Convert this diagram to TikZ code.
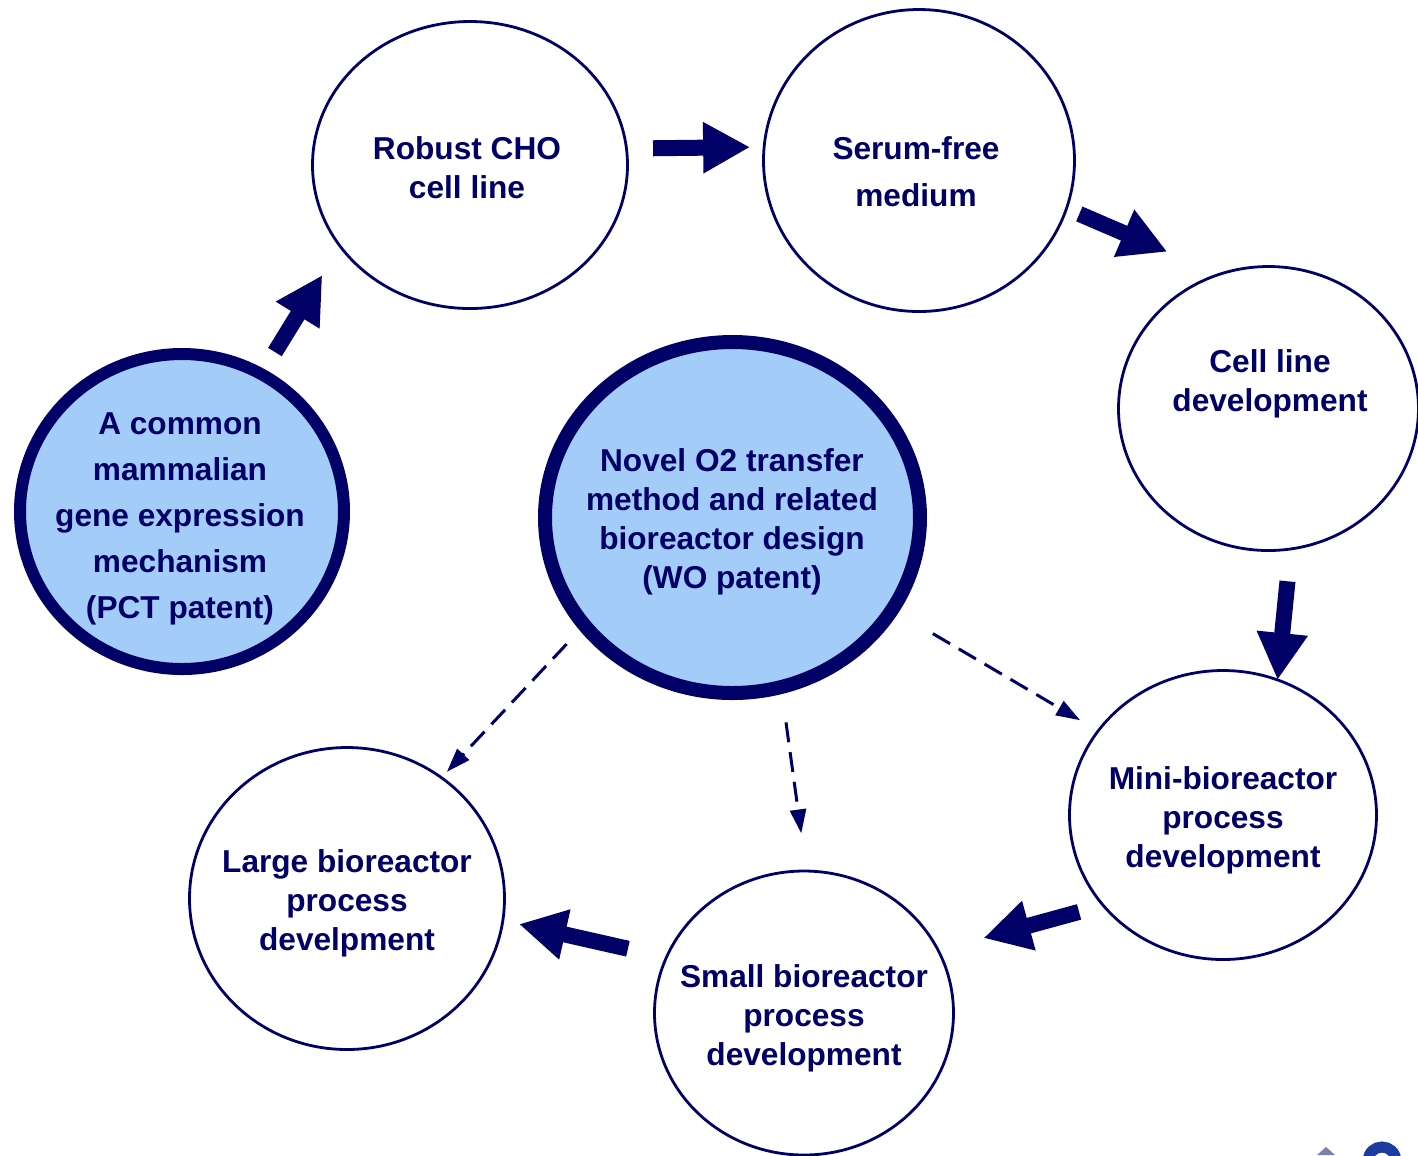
\documentclass[tikz,border=0pt]{standalone}
\usepackage{fontspec}
\setmainfont{Liberation Sans}
\usetikzlibrary{arrows.meta, shapes.geometric}
\definecolor{navy}{RGB}{0,0,102}
\definecolor{keyblue}{RGB}{163,204,249}
\definecolor{logoblue}{RGB}{30,60,160}
\definecolor{logogrey}{RGB}{120,130,170}

\begin{document}
\begin{tikzpicture}[x=0.1mm,y=-0.1mm,
  ring/.style={ellipse,draw=navy,line width=0.28mm,inner sep=0pt,outer sep=0pt},
  keyring/.style={ellipse,draw=navy,fill=keyblue,inner sep=0pt,outer sep=0pt},
  txt/.style={text=navy,align=center,inner sep=0pt,font=\fontsize{9}{#1}\selectfont\bfseries},
  txt/.default=11.1,
  blk/.style={navy,line width=1.6mm,-{Triangle[length=4.7mm,width=4.8mm]}},
  dsh/.style={navy,line width=0.3mm,dash pattern=on 2mm off 1mm,-{Triangle[length=2.4mm,width=1.6mm]}}]
\useasboundingbox (0,0) rectangle (1418,1155);
% circles
\node[keyring,line width=1.2mm,minimum width=32.4mm,minimum height=31.5mm] (common) at (182,511.5) {};
\node[keyring,line width=1.4mm,minimum width=37.5mm,minimum height=35.1mm] (novel) at (732.5,517.5) {};
\node[ring,minimum width=31.5mm,minimum height=28.7mm] (cho) at (470,165) {};
\node[ring,minimum width=31.1mm,minimum height=30.2mm] (serum) at (919,160.5) {};
\node[ring,minimum width=30mm,minimum height=28.4mm] (cell) at (1268.5,408.5) {};
\node[ring,minimum width=30.7mm,minimum height=28.9mm] (mini) at (1223,815) {};
\node[ring,minimum width=29.9mm,minimum height=28.4mm] (small) at (804,1013) {};
\node[ring,minimum width=31.5mm,minimum height=30.2mm] (large) at (347,898.5) {};
% texts
\node[txt=13.1] (common-t) at (180,519) {A common\\mammalian\\gene expression\\mechanism\\(PCT patent)};
\node[txt] (novel-t) at (732,522) {Novel O2 transfer\\method and related\\bioreactor design\\(WO patent)};
\node[txt] (cho-t) at (467,168) {Robust CHO\\cell line};
\node[txt=13.4] (serum-t) at (916,172) {Serum-free\\medium};
\node[txt] (cell-t) at (1270,384) {Cell line\\development};
\node[txt] (mini-t) at (1223,820) {Mini-bioreactor\\process\\development};
\node[txt] (small-t) at (804,1018) {Small bioreactor\\process\\development};
\node[txt] (large-t) at (347,903) {Large bioreactor\\process\\develpment};
% block arrows
\draw[blk,shorten <=2.6mm,shorten >=3.4mm] (common.60) -- (cho.212.6);
\draw[blk,shorten <=2.66mm,shorten >=1.4mm] (cho.6.2) -- (serum.175.4);
\draw[blk,shorten <=1.4mm,shorten >=5.7mm] (serum.342.8) -- (cell.110.3);
\draw[blk,shorten <=3.25mm] (cell.279.6) -- (mini.68.3);
\draw[blk,shorten <=2.5mm,shorten >=4.7mm] (mini.217.6) -- (small.25.8);
\draw[blk,shorten <=3.95mm,shorten >=1.66mm] (small.158.5) -- (large.352.1);
% dashed arrows
\draw[dsh,shorten <=2.6mm,shorten >=0.8mm] (novel.216.4) -- (large.52.7);
\draw[dsh,shorten <=3.57mm,shorten >=3.8mm] (novel.286.6) -- (small.89.8);
\draw[dsh,shorten <=4.73mm,shorten >=2.1mm] (novel.330.8) -- (mini.146);
% logo corner
\fill[logogrey] (1317,1155) -- (1326,1147) -- (1335,1155) -- cycle;
\draw[logoblue,line width=1.1mm] (1368,1162) .. controls (1368,1142) and (1396,1142) .. (1396,1162);
\end{tikzpicture}
\end{document}
